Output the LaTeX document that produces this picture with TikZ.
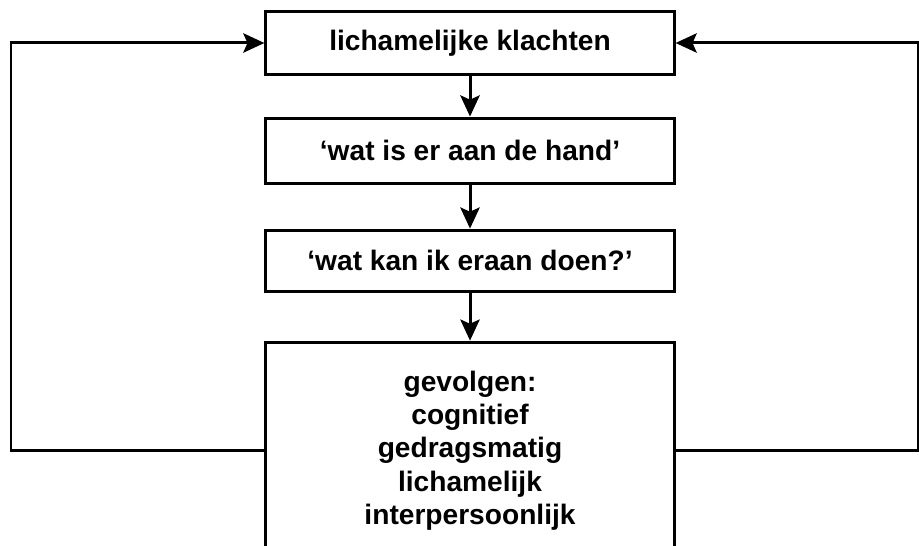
\documentclass[tikz,border=0pt]{standalone}
\usepackage{fontspec}
\setmainfont{Liberation Sans}
\usetikzlibrary{arrows.meta, positioning}
\tikzset{
    stepbox/.style={rectangle, draw, line width=0.85pt, minimum width=4.08cm,
                    inner sep=0pt, align=center, font=\bfseries\fontsize{8}{9.4}\selectfont},
    flow/.style={-{Stealth[length=6pt, width=5.5pt, inset=1.2pt]}, line width=0.85pt},
    feedback/.style={flow},
}

\begin{document}
\begin{tikzpicture}[x=0.01cm, y=-0.01cm]
    \useasboundingbox (0,0) rectangle (919,546);
    \node[stepbox, minimum height=0.62cm] (b1) at (470,43) {lichamelijke klachten};
    \node[stepbox, minimum height=0.65cm, below=4.1mm of b1] (b2) {`wat is er aan de hand'};
    \node[stepbox, minimum height=0.61cm, below=4.4mm of b2] (b3) {`wat kan ik eraan doen?'};
    \node[stepbox, minimum height=2.17cm, below=4.8mm of b3] (b4)
        {gevolgen:\\cognitief\\gedragsmatig\\lichamelijk\\interpersoonlijk};
    \coordinate (lx) at (11,0);
    \coordinate (rx) at (918,0);
    \draw[flow] (b1) -- (b2);
    \draw[flow] (b2) -- (b3);
    \draw[flow] (b3) -- (b4);
    \draw[feedback] (b4.west) -- (b4.west -| lx) |- (b1.west);
    \draw[feedback] (b4.east) -- (b4.east -| rx) |- (b1.east);
\end{tikzpicture}
\end{document}
